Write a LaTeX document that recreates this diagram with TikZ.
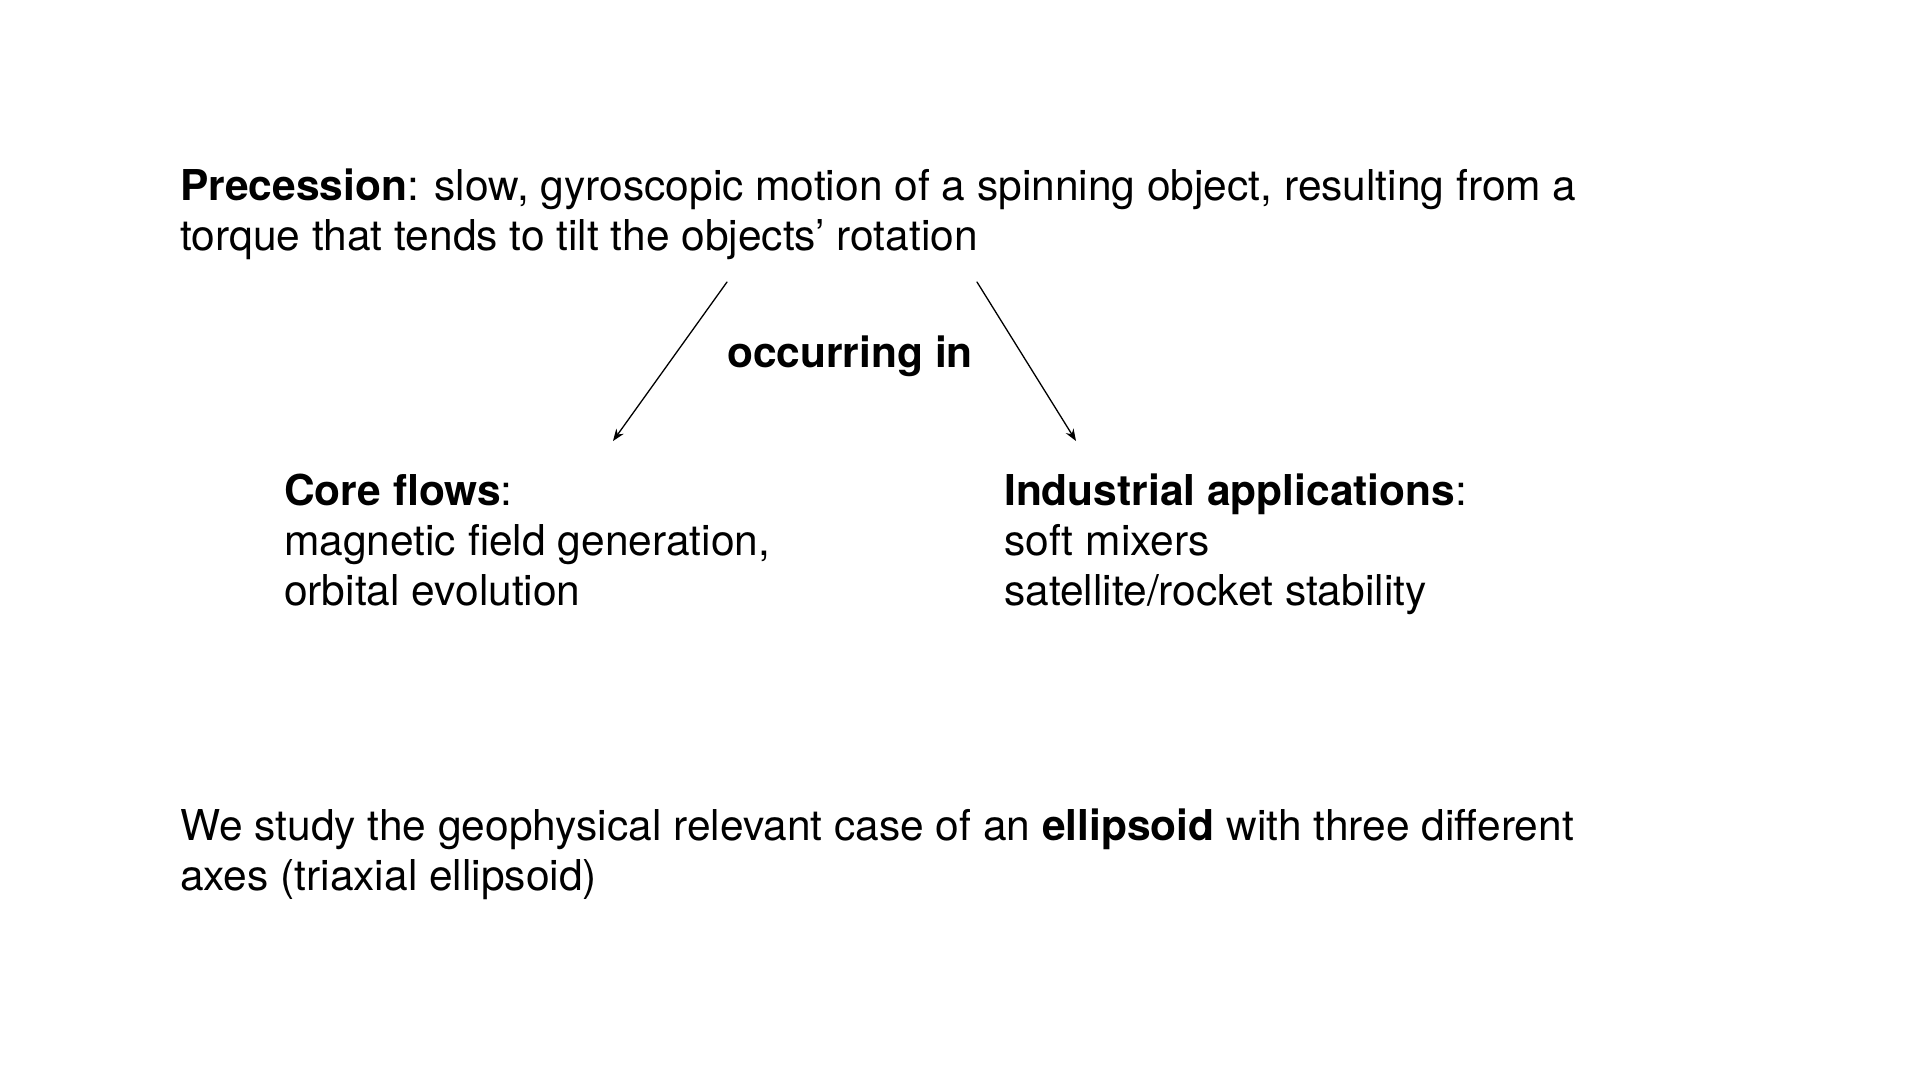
\documentclass[tikz,border=0pt]{standalone}
\usepackage{fontspec}
\setmainfont{TeX Gyre Heros}
\usetikzlibrary{arrows.meta}

\begin{document}
\begin{tikzpicture}[
  x=1pt, y=1pt,
  line cap=round,
  txt/.style={anchor=base west, align=left, inner sep=0pt,
    font=\fontsize{42.5}{50}\selectfont},
  arr/.style={line width=1.3pt, -{Stealth[length=12pt,width=9pt]}}
]
\useasboundingbox (0,0) rectangle (1920,-1080);

% --- Definition (anchored at the baseline of its last line) ---
\node[txt] (prec) at (180,-250)
  {\textbf{Precession}: slow, gyroscopic motion of a spinning object, resulting from a\\
   torque that tends to tilt the objects’ rotation};

% --- Label between the arrows ---
\node[txt] (occ) at (727,-367) {\textbf{occurring in}};

% --- Two fields ---
\node[txt] (core) at (284,-605)
  {\textbf{Core flows}:\\ magnetic field generation,\\ orbital evolution};
\node[txt] (ind) at (1004,-605)
  {\textbf{Industrial applications}:\\ soft mixers\\ satellite/rocket stability};

% --- Closing remark ---
\node[txt] (study) at (180,-890)
  {We study the geophysical relevant case of an \textbf{ellipsoid} with three different\\
   axes (triaxial ellipsoid)};

% --- Arrow ends ---
\coordinate (L0) at (727,-282);
\coordinate (L1) at (613,-441);
\coordinate (R0) at (977,-282);
\coordinate (R1) at (1076,-441);

\draw[arr] (L0) -- (L1);
\draw[arr] (R0) -- (R1);
\end{tikzpicture}
\end{document}
